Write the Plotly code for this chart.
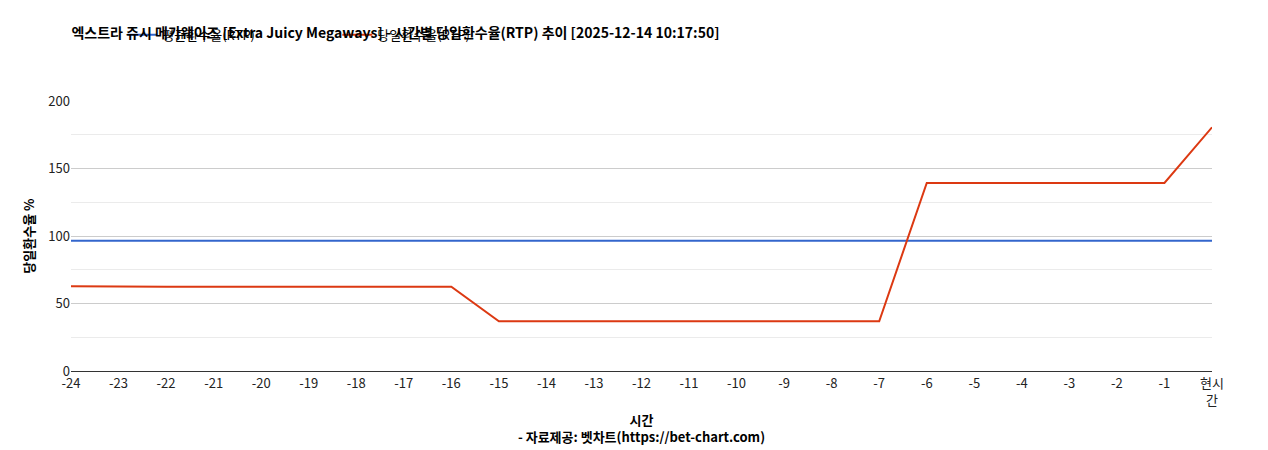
import plotly.graph_objects as go

categories = [str(i) for i in range(-24, 0)] + ["현시<br>간"]
avg_rtp = [96.5] * 25
daily_rtp = [62.8, 62.5, 62.5, 62.5, 62.5, 62.5, 62.5, 62.5, 62.5,
             36.8, 36.8, 36.8, 36.8, 36.8, 36.8, 36.8, 36.8, 36.8,
             139.3, 139.3, 139.3, 139.3, 139.3, 139.3, 180.5]

font = "Noto Sans CJK KR"
fig = go.Figure()
fig.add_trace(go.Scatter(x=categories, y=avg_rtp, mode="lines", name="평균환수율(RTP)",
                         line=dict(color="#3366cc", width=2)))
fig.add_trace(go.Scatter(x=categories, y=daily_rtp, mode="lines", name="당일환수율(RTP)",
                         line=dict(color="#dc3912", width=2)))
fig.update_layout(
    width=1268, height=450, plot_bgcolor="white", paper_bgcolor="white",
    font=dict(family=font, size=13, color="#222"),
    margin=dict(l=63, r=64, t=86, b=87),
    title=dict(text="<b>엑스트라 쥬시 메가웨이즈 [Extra Juicy Megaways] - 시간별 당일환수율(RTP) 추이 [2025-12-14 10:17:50]</b>",
               x=0.05, xanchor="left", y=0.945, yanchor="middle", font=dict(size=14, color="#000")),
    legend=dict(orientation="h", x=0.045, y=1.19, xanchor="left", yanchor="bottom",
                font=dict(size=13, color="#000"), entrywidth=170),
    showlegend=True,
)
fig.update_xaxes(type="category", showgrid=False, showline=True, linecolor="#333",
                 ticks="", tickfont=dict(size=13, color="#222"),
                 title=dict(text="<b>시간</b><br><b>- 자료제공: 벳차트(https://bet-chart.com)</b>",
                            font=dict(size=13, color="#000"), standoff=8))
fig.update_yaxes(range=[0, 200], dtick=50, gridcolor="#cccccc", zeroline=False,
                 minor=dict(dtick=25, showgrid=True, gridcolor="#ebebeb"),
                 tickfont=dict(size=13, color="#222"),
                 title=dict(text="<b>당일환수율 %</b>", font=dict(size=13, color="#000"), standoff=10))
fig.write_html("out.html")
